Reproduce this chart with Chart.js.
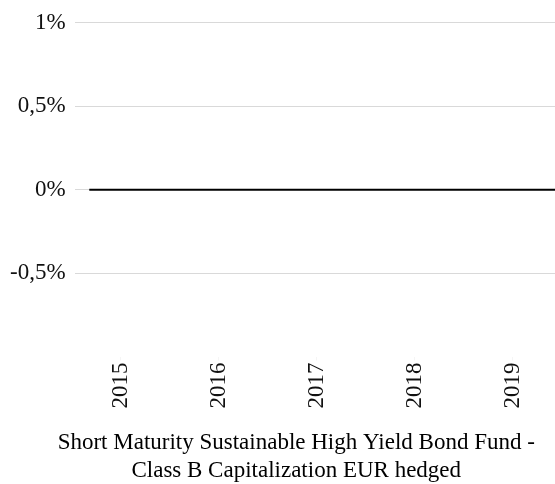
<!DOCTYPE html>
<html>
<head>
<meta charset="utf-8">
<script src="https://cdn.jsdelivr.net/npm/chart.js@4/dist/chart.umd.min.js"></script>
<style>
  html, body { margin: 0; padding: 0; background: #fff; }
  #wrap { width: 555px; height: 484px; }
</style>
</head>
<body>
<div id="wrap"><canvas id="chart"></canvas></div>
<script>
// ---- data -----------------------------------------------------------------
const yearTicks   = [2015, 2016, 2017, 2018, 2019];
const yTicks      = [-1, -0.5, 0, 0.5, 1];
const seriesDates = [2014.68, 2015, 2016, 2017, 2018, 2019, 2019.5];
const seriesVals  = [0, 0, 0, 0, 0, 0, 0];
const seriesName  = ['Short Maturity Sustainable High Yield Bond Fund -',
                     'Class B Capitalization EUR hedged'];

const SERIF = '"Liberation Serif", "Times New Roman", serif';
const GRID  = '#d9d9d9';

function pct(v) {
  return String(v).replace('.', ',') + '%';
}

// force the axis ticks to the values above
const fixedTicks = {
  id: 'fixedTicks',
  afterBuildTicks(chart) {
    chart.scales.x.ticks = yearTicks.map(v => ({ value: v, label: String(v) }));
    chart.scales.y.ticks = yTicks.map(v => ({ value: v, label: v === -1 ? '' : pct(v) }));
  },
};

new Chart(document.getElementById('chart'), {
  type: 'line',
  data: {
    datasets: [{
      label: seriesName.join(' '),
      data: seriesDates.map((d, i) => ({ x: d, y: seriesVals[i] })),
      borderColor: '#000',
      borderWidth: 2,
      pointRadius: 0,
      tension: 0,
    }],
  },
  plugins: [fixedTicks],
  options: {
    animation: false,
    responsive: true,
    maintainAspectRatio: false,
    // legend's empty bottom gap hangs below the canvas
    layout: { padding: { left: 1, top: 10.5, right: 0, bottom: -11 } },
    plugins: {
      tooltip: { enabled: false },
      legend: {
        display: true,
        position: 'bottom',
        labels: {
          color: '#111',
          boxWidth: 25,
          boxHeight: 28,
          padding: 0,
          font: { family: SERIF, size: 23, lineHeight: 1.2 },
          // series name split over two rows, marker left blank
          generateLabels() {
            return seriesName.map(t => ({
              text: t,
              fillStyle: 'rgba(0,0,0,0)',
              strokeStyle: 'rgba(0,0,0,0)',
              lineWidth: 0,
              hidden: false,
            }));
          },
        },
      },
    },
    scales: {
      x: {
        type: 'linear',
        min: 2014.53,
        max: 2019.43,
        border: { display: false },
        grid: { drawOnChartArea: false, color: 'rgba(0,0,0,0.04)', tickLength: 4 },
        ticks: {
          color: '#111',
          minRotation: 90, maxRotation: 90,
          padding: 2,
          font: { family: SERIF, size: 23 },
          callback: (v, i) => String(yearTicks[i]),
        },
        afterFit(scale) { scale.height = 72.5; },
      },
      y: {
        type: 'linear',
        min: -1,
        max: 1,
        border: { display: false },
        grid: {
          drawTicks: false,
          color: ctx => (ctx.tick && ctx.tick.value === -1) ? 'rgba(0,0,0,0)' : GRID,
        },
        ticks: {
          color: '#111',
          padding: 9,
          font: { family: SERIF, size: 23 },
          callback: (v, i) => (yTicks[i] === -1 ? '' : pct(yTicks[i])),
        },
      },
    },
  },
});
</script>
</body>
</html>
